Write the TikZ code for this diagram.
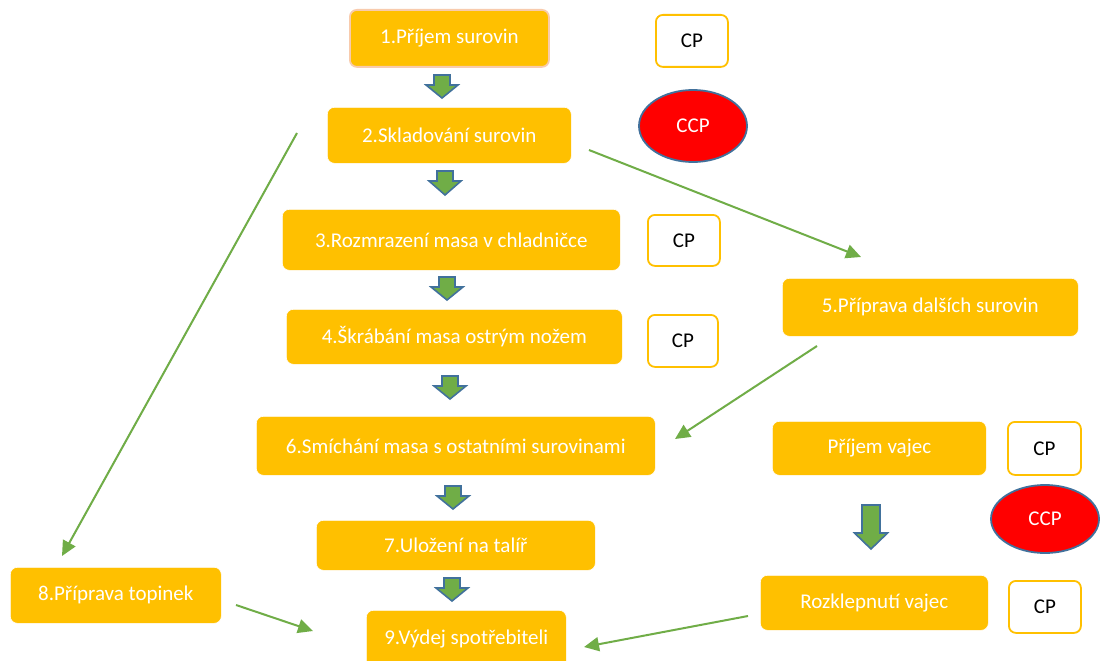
\documentclass[tikz,border=0pt]{standalone}
\usepackage{fontspec}
\setmainfont{Carlito}
\usetikzlibrary{shapes.geometric,arrows.meta}
\definecolor{boxor}{HTML}{FFC000}
\definecolor{pinkb}{HTML}{F8CBAD}
\definecolor{grn}{HTML}{70AD47}
\definecolor{blu}{HTML}{41719C}
\tikzset{
  stepbox/.style={rectangle, rounded corners=7pt, fill=boxor, draw=white, line width=0.6pt, text=white, font=\fontsize{21}{24}\selectfont, anchor=north west, inner sep=0pt},
  cpbox/.style={rectangle, rounded corners=7pt, fill=white, draw=boxor, line width=1.8pt, text=black, font=\fontsize{21}{24}\selectfont, anchor=north west, inner sep=0pt},
  ccp/.style={ellipse, fill=red, draw=blu, line width=1.8pt, text=white, font=\fontsize{21}{24}\selectfont, inner sep=0pt},
  blk/.style={fill=grn, draw=blu, line width=1.6pt, line join=miter},
  flow/.style={draw=grn, line width=2pt, -{Triangle[length=15pt,width=14pt]}}
}
% centre x, top y, head width, shaft width, shaft length, total length
\newcommand\barrow[6]{\draw[blk] (#1-#4/2,#2) -- (#1+#4/2,#2) -- (#1+#4/2,#2+#5) -- (#1+#3/2,#2+#5) -- (#1,#2+#6) -- (#1-#3/2,#2+#5) -- (#1-#4/2,#2+#5) -- cycle;}
\begin{document}
\begin{tikzpicture}[x=1pt,y=-1pt]
\useasboundingbox (0,0) rectangle (1100,661);
\fill[white] (0,0) rectangle (1100,661);
% step boxes
\node[stepbox, draw=pinkb, line width=1.8pt, minimum width=199pt, minimum height=57pt] (n1) at (349,9) {1.Příjem surovin};
\node[stepbox, minimum width=244pt, minimum height=56pt] (n2) at (327,107) {2.Skladování surovin};
\node[stepbox, minimum width=338pt, minimum height=61pt] (n3) at (282,209) {3.Rozmrazení masa v chladničce};
\node[stepbox, minimum width=336pt, minimum height=55pt] (n4) at (286,309) {4.Škrábání masa ostrým nožem};
\node[stepbox, minimum width=296pt, minimum height=58pt] (n5) at (782,278) {5.Příprava dalších surovin};
\node[stepbox, minimum width=399pt, minimum height=59pt] (n6) at (256,416) {6.Smíchání masa s ostatními surovinami};
\node[stepbox, minimum width=214pt, minimum height=54pt] (ve) at (772,421) {Příjem vajec};
\node[stepbox, minimum width=279pt, minimum height=50pt] (n7) at (316,520) {7.Uložení na talíř};
\node[stepbox, minimum width=211pt, minimum height=56pt] (n8) at (10,567) {8.Příprava topinek};
\node[stepbox, minimum width=228pt, minimum height=55pt] (rv) at (760,575) {Rozklepnutí vajec};
\node[stepbox, minimum width=200pt, minimum height=58pt] (n9) at (366,610) {9.Výdej spotřebiteli};
% CP boxes
\node[cpbox, minimum width=72pt, minimum height=52pt] (cp1) at (655,14) {CP};
\node[cpbox, minimum width=72pt, minimum height=51pt] (cp3) at (647,214) {CP};
\node[cpbox, minimum width=70pt, minimum height=52pt] (cp4) at (647,314) {CP};
\node[cpbox, minimum width=73pt, minimum height=53pt] (cpv) at (1007,421) {CP};
\node[cpbox, minimum width=72pt, minimum height=52pt] (cpr) at (1008,580) {CP};
% CCP
\node[ccp, minimum width=108pt, minimum height=72pt] (ccp1) at (693,126) {CCP};
\node[ccp, minimum width=108pt, minimum height=68pt] (ccp2) at (1045,519) {CCP};
% block arrows
\barrow{442}{75}{32}{16}{10}{23}
\barrow{445}{171}{32}{16}{10}{24}
\barrow{447}{277}{32}{16}{10}{23}
\barrow{450}{376}{32}{16}{10}{23}
\barrow{453}{486}{32}{16}{10}{23}
\barrow{452}{578}{32}{16}{10}{23}
\barrow{871}{505}{33}{18}{28}{44}
% free ends
\coordinate (a1s) at (297,133);
\coordinate (a1e) at (62,556);
\coordinate (a2s) at (589,150);
\coordinate (a2e) at (861,257);
\coordinate (a3s) at (817,346);
\coordinate (a3e) at (675,439);
\coordinate (a4s) at (236,605);
\coordinate (a4e) at (313,631);
\coordinate (a5s) at (748,616);
\coordinate (a5e) at (584,647);
\draw[flow] (a1s) -- (a1e);
\draw[flow] (a2s) -- (a2e);
\draw[flow] (a3s) -- (a3e);
\draw[flow] (a4s) -- (a4e);
\draw[flow] (a5s) -- (a5e);
\end{tikzpicture}
\end{document}
